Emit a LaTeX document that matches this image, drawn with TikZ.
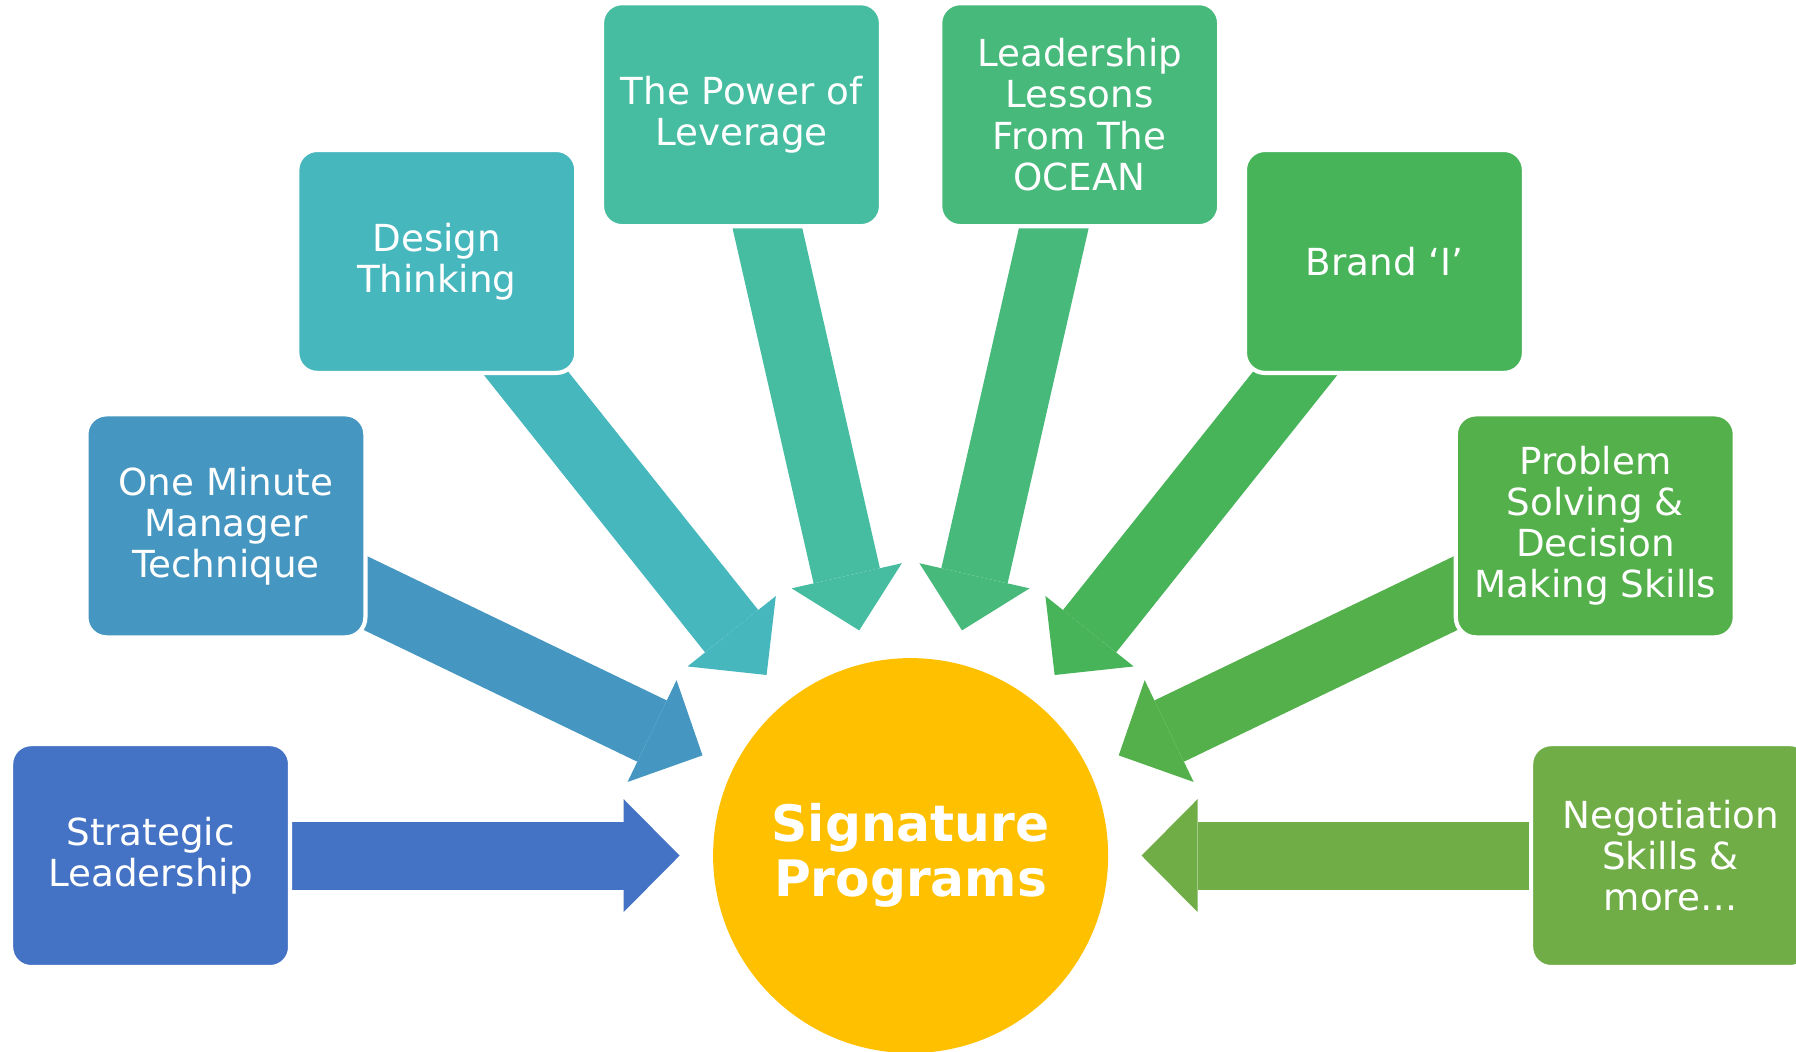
\documentclass[tikz,border=0pt]{standalone}
\usepackage{fontspec}
\setmainfont{DejaVu Sans}
\usepackage{tikz}
\usetikzlibrary{arrows.meta,calc,backgrounds}

\definecolor{boxcol1}{HTML}{4472C4}
\definecolor{boxcol2}{HTML}{4596C0}
\definecolor{boxcol3}{HTML}{47B7BE}
\definecolor{boxcol4}{HTML}{46BDA0}
\definecolor{boxcol5}{HTML}{47B97B}
\definecolor{boxcol6}{HTML}{47B45A}
\definecolor{boxcol7}{HTML}{53B04A}
\definecolor{boxcol8}{HTML}{70AD47}
\definecolor{hubyellow}{HTML}{FFC000}

\newcommand{\boxfont}{\fontsize{10.6}{11.7}\selectfont}
\newcommand{\hubfont}{\fontsize{14.3}{15.6}\selectfont\bfseries}

\begin{document}
\begin{tikzpicture}[
    box/.style={rectangle, rounded corners=0.2cm, draw=white, line width=1.2pt,
        minimum width=2.79cm, minimum height=2.23cm, align=center,
        text=white, font=\boxfont, inner sep=2pt},
    hubnode/.style={circle, fill=hubyellow, minimum size=3.95cm, inner sep=0pt,
        align=center, text=white, font=\hubfont},
    bigarrow/.style={line width=0.68cm,
        -{Triangle[width=1.13cm,length=0.56cm,line width=0pt]}}
]
\useasboundingbox (0,0) rectangle (17.96,10.51);

% centre
\node[hubnode] (hub) at (9.106,1.954) {Signature\\Programs};

% programmes round the centre
\foreach \i/\txt in {1/{Strategic\\Leadership},
                     2/{One Minute\\Manager\\Technique},
                     3/{Design\\Thinking},
                     4/{The Power of\\Leverage},
                     5/{Leadership\\Lessons\\From The\\OCEAN},
                     6/{Brand ‘I’},
                     7/{Problem\\Solving \&\\Decision\\Making Skills},
                     8/{Negotiation\\Skills \&\\more…}} {
    \pgfmathsetmacro{\ang}{180-(\i-1)*180/7}
    \node[box, fill=boxcol\i] (b\i) at ($(hub)+(\ang:7.6)$) {\txt};
}

% arrows under the boxes
\begin{pgfonlayer}{background}
\foreach \i in {1,...,8}
    \draw[bigarrow, color=boxcol\i] (b\i.center) -- ($(hub)!2.31cm!(b\i.center)$);
\end{pgfonlayer}
\end{tikzpicture}
\end{document}
